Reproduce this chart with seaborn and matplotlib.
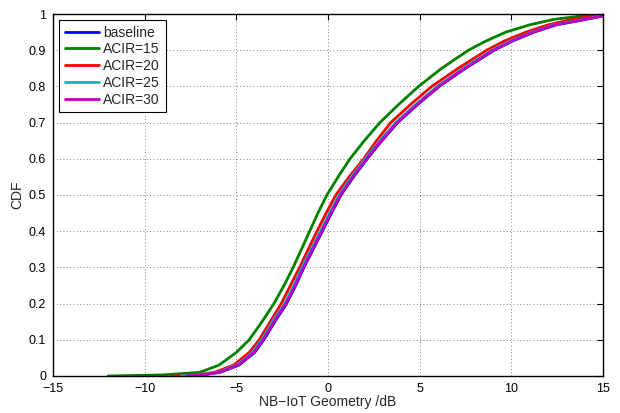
import pandas as pd
import seaborn as sns
import matplotlib.pyplot as plt

# CDF levels and the x positions (dB)
cdf_levels = [0.0, 0.003, 0.01, 0.03, 0.065, 0.1, 0.15, 0.2, 0.25, 0.3,
              0.35, 0.4, 0.45, 0.5, 0.55, 0.6, 0.65, 0.7, 0.75, 0.8,
              0.85, 0.9, 0.925, 0.95, 0.97, 0.985, 0.995, 1.0]
baseline = [-7.6, -6.85, -5.9, -4.86, -4.0, -3.5, -2.9, -2.26, -1.76, -1.31,
            -0.81, -0.31, 0.19, 0.71, 1.39, 2.14, 2.94, 3.8, 4.89, 6.07,
            7.5, 9.07, 10.05, 11.25, 12.45, 14.05, 15.05, 15.4]
acir15 = [-12.0, -9.0, -7.0, -5.95, -5.0, -4.3, -3.6, -2.95, -2.4, -1.9,
          -1.45, -1.0, -0.55, -0.06, 0.55, 1.2, 1.98, 2.83, 3.85, 4.94,
          6.2, 7.66, 8.6, 9.7, 11.0, 12.3, 13.9, 14.8]
acir20 = [-8.5, -7.2, -6.2, -5.15, -4.3, -3.75, -3.15, -2.55, -2.05, -1.55,
          -1.08, -0.6, -0.1, 0.43, 1.15, 1.95, 2.65, 3.42, 4.5, 5.66,
          7.1, 8.66, 9.6, 10.8, 12.0, 13.3, 14.5, 15.0]
acir25 = [-8.0, -6.97, -6.02, -4.97, -4.12, -3.62, -3.02, -2.37, -1.87, -1.42,
          -0.92, -0.42, 0.08, 0.6, 1.28, 2.03, 2.83, 3.69, 4.78, 5.96,
          7.38, 8.95, 9.93, 11.13, 12.33, 13.93, 14.95, 15.3]
acir30 = [-7.7, -6.9, -5.95, -4.9, -4.05, -3.55, -2.95, -2.3, -1.8, -1.35,
          -0.85, -0.35, 0.15, 0.67, 1.35, 2.1, 2.9, 3.76, 4.85, 6.03,
          7.45, 9.02, 10.0, 11.2, 12.4, 14.0, 15.0, 15.35]

series_names = ["baseline", "ACIR=15", "ACIR=20", "ACIR=25", "ACIR=30"]
colors = ["#0000ff", "#008000", "#ff0000", "#00bfbf", "#bf00bf"]
x_ticks = [-15, -10, -5, 0, 5, 10, 15]
x_ticklabels = ["\u221215", "\u221210", "\u22125", "0", "5", "10", "15"]
y_ticks = [0, 0.1, 0.2, 0.3, 0.4, 0.5, 0.6, 0.7, 0.8, 0.9, 1]
y_ticklabels = ["0", "0.1", "0.2", "0.3", "0.4", "0.5", "0.6", "0.7",
                "0.8", "0.9", "1"]

frames = []
for name, xs in zip(series_names, [baseline, acir15, acir20, acir25, acir30]):
    frames.append(pd.DataFrame({"geom": xs, "cdf": cdf_levels, "series": name}))
df = pd.concat(frames, ignore_index=True)

sns.set_style("white")
plt.rcParams['font.family'] = ['Liberation Sans', 'DejaVu Sans']

fig = plt.figure(figsize=(6.2, 4.13), dpi=100)
ax = fig.add_axes([0.0855, 0.0896, 0.8871, 0.8765])

sns.lineplot(data=df, x="geom", y="cdf", hue="series", hue_order=series_names,
             palette=dict(zip(series_names, colors)), estimator=None,
             sort=False, linewidth=2, ax=ax)

ax.set_xlim(-15, 15)
ax.set_ylim(0, 1)
ax.set_xticks(x_ticks)
ax.set_xticklabels(x_ticklabels)
ax.set_yticks(y_ticks)
ax.set_yticklabels(y_ticklabels)
ax.tick_params(direction="in", length=4, width=0.8, top=True, right=True,
               labelsize=9, colors="black")
ax.tick_params(axis="x", pad=5)
ax.tick_params(axis="y", pad=5)
ax.grid(True, linestyle=(0, (1, 3)), color="#555555", linewidth=0.6)
for sp in ax.spines.values():
    sp.set_color("black")
    sp.set_linewidth(1.0)

ax.set_xlabel("NB\u2212IoT Geometry /dB", fontsize=10, labelpad=0)
ax.set_ylabel("CDF", fontsize=10, labelpad=3)

leg = ax.legend(loc="upper left", frameon=True, fancybox=False,
                handlelength=2.5, fontsize=10, borderaxespad=0.43,
                labelspacing=0.2, handletextpad=0.3, borderpad=0.4)
leg.get_frame().set_edgecolor("black")
leg.get_frame().set_linewidth(0.8)
leg.get_frame().set_alpha(1)

fig.savefig("out.png", dpi=100)
